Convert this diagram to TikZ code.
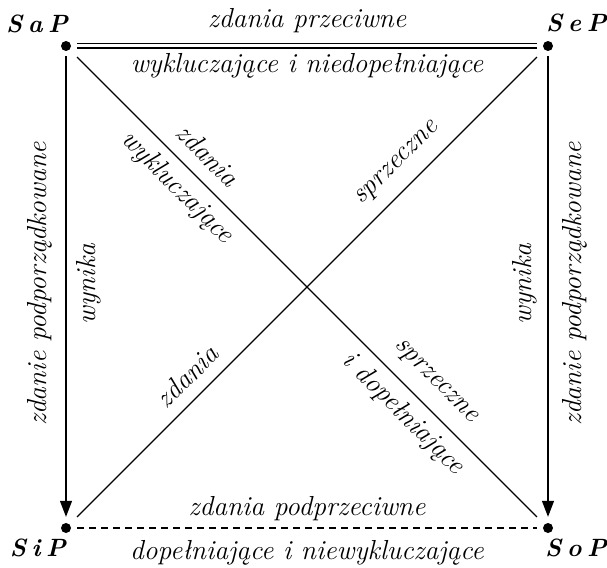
\documentclass[tikz,border=0pt]{standalone}
\usepackage{fontspec}
\usetikzlibrary{arrows.meta}
\begin{document}
\begin{tikzpicture}[x=1pt,y=-1pt,
  dot/.style={circle,fill,inner sep=0pt,minimum size=10pt},
  corner/.style={font=\fontsize{25}{28}\selectfont\bfseries\itshape, inner sep=0pt},
  lbl/.style={font=\fontsize{27.5}{30}\selectfont\itshape, inner sep=0pt},
  conn/.style={line width=1.2pt},
  arr/.style={conn,-{Triangle[length=16pt,width=12pt]}, shorten <=5pt, shorten >=6pt},
  diag/.style={conn, shorten <=10.5pt, shorten >=10.5pt},
  ]
\useasboundingbox (0,0) rectangle (607,567);
\newcommand\cgap{\kern0.22em}
% corner points
\node[dot] (sap) at (66,46) {};
\node[dot] (sep) at (548,46) {};
\node[dot] (sip) at (66,528) {};
\node[dot] (sop) at (548,528) {};
% corner labels
\node[corner, anchor=base east] (sapl) at (68,33) {S\cgap a\cgap P};
\node[corner, anchor=base west] (sepl) at (546,32) {S\cgap e\cgap P};
\node[corner, anchor=base east] (sipl) at (66,556) {S\cgap i\cgap P};
\node[corner, anchor=base west] (sopl) at (545,556) {S\cgap o\cgap P};
% connectors
\draw[conn, double, double distance=3pt, shorten <=6pt, shorten >=6pt] (sap) -- (sep);
\draw[conn, dash pattern=on 7pt off 5pt, shorten <=6pt, shorten >=6pt] (sip) -- (sop);
\draw[arr] (sap) -- (sip);
\draw[arr] (sep) -- (sop);
\draw[diag] (sap) -- (sop);
\draw[diag] (sip) -- (sep);
% horizontal labels
\node[lbl, anchor=base] (t1) at (307,28) {zdania przeciwne};
\node[lbl, anchor=base] (t2) at (307,73) {wykluczające i niedopełniające};
\node[lbl, anchor=base] (b1) at (307,515) {zdania podprzeciwne};
\node[lbl, anchor=base] (b2) at (307,559) {dopełniające i niewykluczające};
% vertical labels
\node[lbl, rotate=90] (l1) at (40,284) {zdanie podporządkowane};
\node[lbl, rotate=90] (l2) at (89,284) {wynika};
\node[lbl, rotate=90] (r1) at (525,284) {wynika};
\node[lbl, rotate=90] (r2) at (575,284) {zdanie podporządkowane};
% diagonal labels
\node[lbl, rotate=-45] (d1a) at (208,155) {zdania};
\node[lbl, rotate=-45] (d1b) at (177,188) {wykluczające};
\node[lbl, rotate=-45] (d1c) at (435,382) {sprzeczne};
\node[lbl, rotate=-45] (d1d) at (403,414) {i dopełniające};
\node[lbl, rotate=45] (d2a) at (398,164) {sprzeczne};
\node[lbl, rotate=45] (d2b) at (187,376) {zdania};
\end{tikzpicture}
\end{document}
